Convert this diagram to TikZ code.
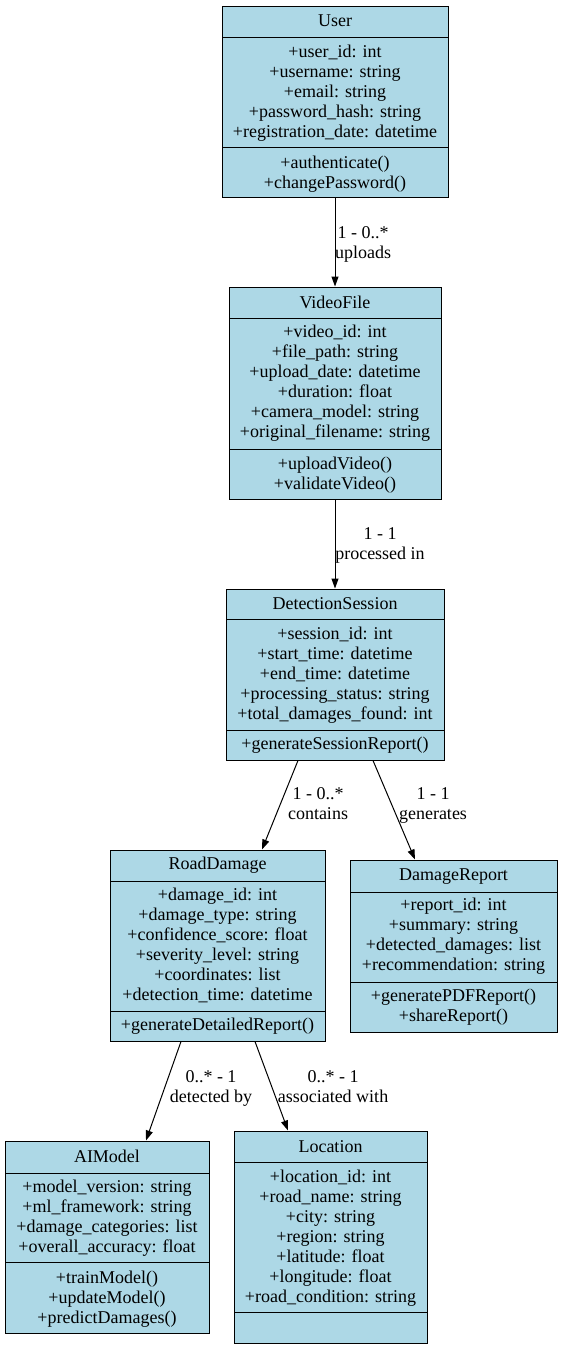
\documentclass[tikz,border=0pt]{standalone}
\usepackage{fontspec}
\setmainfont{Liberation Serif}
\usetikzlibrary{arrows.meta}
\definecolor{boxblue}{HTML}{ADD8E6}
\newcommand{\rowsat}[4]{%
  \foreach \s [count=\i from 0] in {#4} {\node[txt] (#1-\i) at (#2, #3+20*\i) {\s};}}
\begin{document}
\begin{tikzpicture}[x=1pt,y=-1pt,
  cls/.style={draw=black, fill=boxblue, line width=1pt, inner sep=0pt},
  sepline/.style={draw=black, line width=1pt},
  txt/.style={anchor=base, inner sep=0pt, font=\fontsize{18}{20}\selectfont},
  lbl/.style={anchor=base, inner sep=0pt, font=\fontsize{18}{20}\selectfont},
  edge/.style={draw=black, line width=1pt, -{Triangle[length=10pt,width=7pt]}}]
\useasboundingbox (0,0) rectangle (563,1349);

% User
\node[cls, minimum width=226pt, minimum height=191pt] (user) at (335,101.5) {};
\draw[sepline] (222,37) -- (448,37);
\draw[sepline] (222,147) -- (448,147);
\node[txt] (user-t) at (335,26) {User};
\rowsat{user-a}{335}{57}{+user\_id: int,+username: string,+email: string,+password\_hash: string,+registration\_date: datetime}
\rowsat{user-m}{335}{168}{+authenticate(),+changePassword()}

% VideoFile
\node[cls, minimum width=212pt, minimum height=212pt] (vf) at (335,393) {};
\draw[sepline] (229,318) -- (441,318);
\draw[sepline] (229,449) -- (441,449);
\node[txt] (vf-t) at (335,308) {VideoFile};
\rowsat{vf-a}{335}{337}{+video\_id: int,+file\_path: string,+upload\_date: datetime,+duration: float,+camera\_model: string,+original\_filename: string}
\rowsat{vf-m}{335}{469}{+uploadVideo(),+validateVideo()}

% DetectionSession
\node[cls, minimum width=218pt, minimum height=171pt] (ds) at (335,674.5) {};
\draw[sepline] (226,619) -- (444,619);
\draw[sepline] (226,730) -- (444,730);
\node[txt] (ds-t) at (335,609) {DetectionSession};
\rowsat{ds-a}{335}{639}{+session\_id: int,+start\_time: datetime,+end\_time: datetime,+processing\_status: string,+total\_damages\_found: int}
\rowsat{ds-m}{335}{749}{+generateSessionReport()}

% RoadDamage
\node[cls, minimum width=215pt, minimum height=191pt] (rd) at (217.5,945.5) {};
\draw[sepline] (110,881) -- (325,881);
\draw[sepline] (110,1011) -- (325,1011);
\node[txt] (rd-t) at (217.5,869) {RoadDamage};
\rowsat{rd-a}{217.5}{900}{+damage\_id: int,+damage\_type: string,+confidence\_score: float,+severity\_level: string,+coordinates: list,+detection\_time: datetime}
\rowsat{rd-m}{217.5}{1030}{+generateDetailedReport()}

% DamageReport
\node[cls, minimum width=207pt, minimum height=172pt] (dr) at (453.5,946) {};
\draw[sepline] (350,892) -- (557,892);
\draw[sepline] (350,982) -- (557,982);
\node[txt] (dr-t) at (453.5,880) {DamageReport};
\rowsat{dr-a}{453.5}{910}{+report\_id: int,+summary: string,+detected\_damages: list,+recommendation: string}
\rowsat{dr-m}{453.5}{1001}{+generatePDFReport(),+shareReport()}

% AIModel
\node[cls, minimum width=204pt, minimum height=192pt] (ai) at (107,1237) {};
\draw[sepline] (5,1173) -- (209,1173);
\draw[sepline] (5,1262) -- (209,1262);
\node[txt] (ai-t) at (107,1162) {AIModel};
\rowsat{ai-a}{107}{1192}{+model\_version: string,+ml\_framework: string,+damage\_categories: list,+overall\_accuracy: float}
\rowsat{ai-m}{107}{1283}{+trainModel(),+updateModel(),+predictDamages()}

% Location
\node[cls, minimum width=193pt, minimum height=212pt] (loc) at (330.5,1237) {};
\draw[sepline] (234,1162) -- (427,1162);
\draw[sepline] (234,1312) -- (427,1312);
\node[txt] (loc-t) at (330.5,1152) {Location};
\rowsat{loc-a}{330.5}{1182}{+location\_id: int,+road\_name: string,+city: string,+region: string,+latitude: float,+longitude: float,+road\_condition: string}

% Edges
\draw[edge] (user.south) -- (vf.north);
\node[lbl] (l1a) at (363,238) {1 - 0..*};
\node[lbl] (l1b) at (363,258) {uploads};

\draw[edge] (vf.south) -- (ds.north);
\node[lbl] (l2a) at (380,539) {1 - 1};
\node[lbl] (l2b) at (380,559) {processed in};

\draw[edge] ([xshift=-37pt]ds.south) -- ([xshift=44.5pt]rd.north);
\node[lbl] (l3a) at (318,799) {1 - 0..*};
\node[lbl] (l3b) at (318,819) {contains};

\draw[edge] ([xshift=38pt]ds.south) -- ([xshift=-38.5pt]dr.north);
\node[lbl] (l4a) at (433,799) {1 - 1};
\node[lbl] (l4b) at (433,819) {generates};

\draw[edge] ([xshift=-36.5pt]rd.south) -- ([xshift=39pt]ai.north);
\node[lbl] (l5a) at (211,1082) {0..* - 1};
\node[lbl] (l5b) at (211,1102) {detected by};

\draw[edge] ([xshift=37.5pt]rd.south) -- ([xshift=-42.5pt]loc.north);
\node[lbl] (l6a) at (333,1082) {0..* - 1};
\node[lbl] (l6b) at (333,1102) {associated with};
\end{tikzpicture}
\end{document}
